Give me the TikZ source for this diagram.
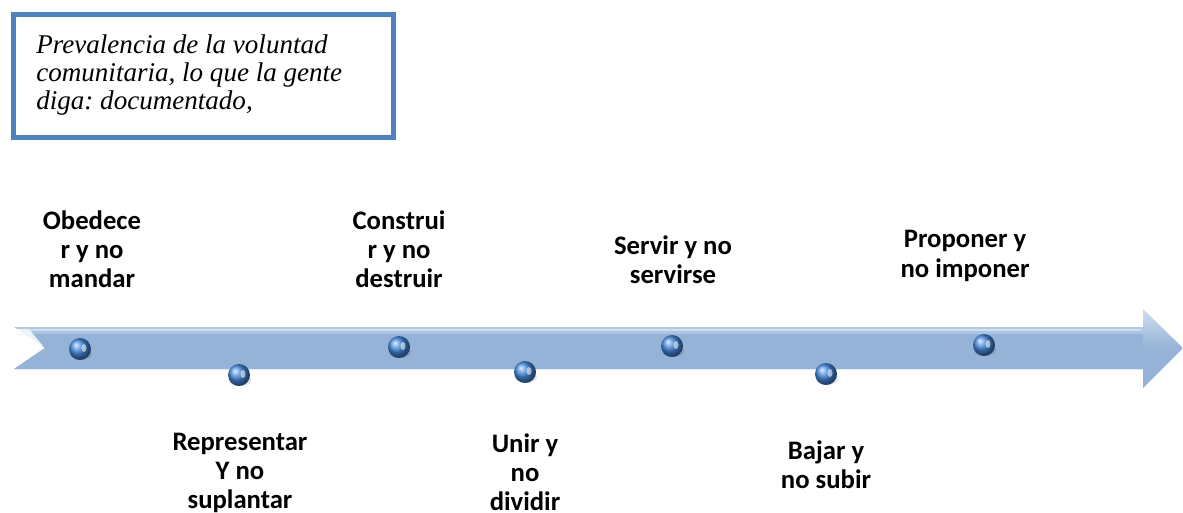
\documentclass[tikz,border=0pt]{standalone}
\usepackage{fontspec}
\setmainfont{Carlito}
\newfontfamily\notefont{Liberation Serif}
\usetikzlibrary{shadings}
\frenchspacing
\definecolor{frameblue}{RGB}{79,129,189}
\definecolor{shaftblue}{RGB}{149,179,215}
\definecolor{shaftlight}{RGB}{205,222,240}
\definecolor{ballblue}{RGB}{70,140,225}
\tikzset{
  lbl/.style={font=\fontsize{15.2pt}{16.6pt}\selectfont\bfseries, align=center, inner sep=0pt, text=black},
  dot/.style={circle, minimum size=22*0.02cm, inner sep=0pt, shading=ball, ball color=ballblue},
}
\begin{document}
\begin{tikzpicture}[x=0.02cm, y=-0.02cm]
\useasboundingbox (0,0) rectangle (1183,512);

% note box
\draw[frameblue, line width=5*0.02cm, fill=white] (13.5,14.5) rectangle (393.5,137.5);
\node[anchor=north west, inner sep=0pt, align=left,
      font=\notefont\itshape\fontsize{15.4pt}{15.9pt}\selectfont] (note) at (36,34)
  {Prevalencia de la voluntad\\comunitaria, lo que la gente\\diga: documentado,};

% timeline arrow
\path[top color=shaftlight, bottom color=shaftblue, middle color=shaftblue]
  (14,327) -- (1143,327) -- (1143,309) -- (1183,348) -- (1143,388) -- (1143,369)
  -- (14,369) -- (45,348) -- cycle;
\fill[shaftblue] (16,334) -- (1143,334) -- (1143,369) -- (14,369) -- (45,348) -- (31,334) -- cycle;
\fill[white, opacity=0.8] (17,329) -- (29,329) -- (43,346) -- (36,346) -- cycle;
\draw[shaftlight, line width=2*0.02cm] (30,330) -- (1141,330);

% milestones
\foreach \n/\px/\py in {d1/80/349, d2/239/375, d3/399/347, d4/525/372, d5/672/346, d6/826/374, d7/984/345} {
  \fill[black, opacity=0.12] (\px+1,\py+5) ellipse (11 and 6);
  \node[dot] (\n) at (\px,\py) {};
  \fill[white, opacity=0.55] (\px+4,\py-1) ellipse (2.5 and 4);
}

% labels
\node[lbl] (l1) at (92,249) {Obedece\\r y no\\mandar};
\node[lbl] (l2) at (240,473) {Representar\\Y no\\suplantar};
\node[lbl] (l3) at (399,249) {Construi\\r y no\\destruir};
\node[lbl] (l4) at (525,472) {Unir y\\no\\dividir};
\node[lbl] (l5) at (673,260) {Servir y no\\servirse};
\node[lbl] (l6) at (826,465) {Bajar y\\no subir};
\node[lbl] (l7) at (965,256) {Proponer y\\no imponer};
\end{tikzpicture}
\end{document}
